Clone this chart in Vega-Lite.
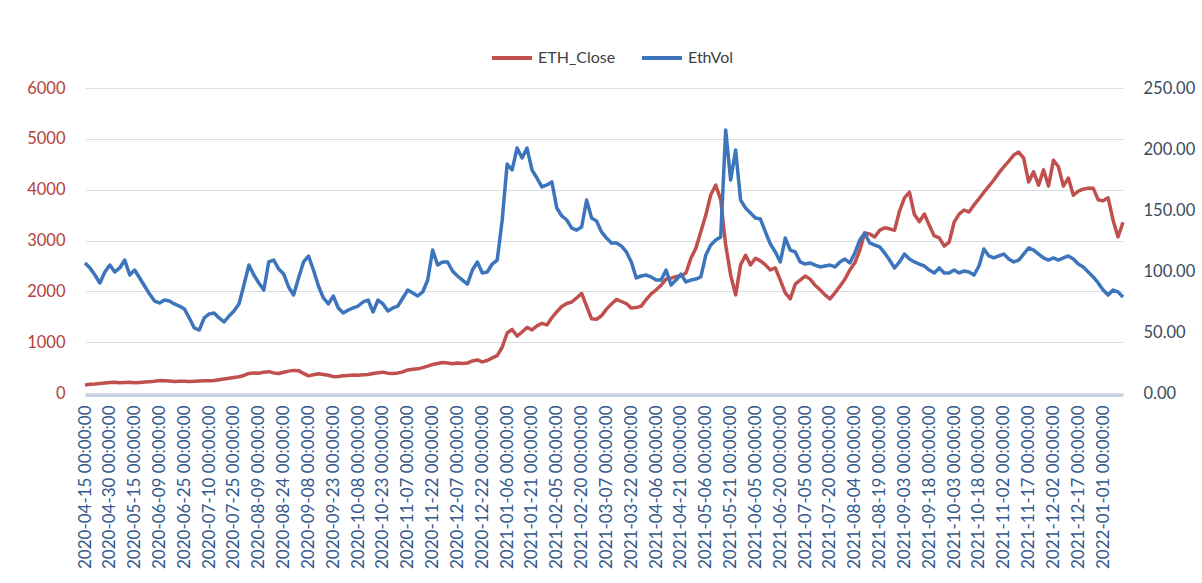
{
  "$schema": "https://vega.github.io/schema/vega-lite/v6.json",
  "width": 1038,
  "height": 305,
  "autosize": {"type": "none"},
  "padding": {"left": 85, "top": 88, "right": 79, "bottom": 190},
  "background": "white",
  "config": {"view": {"stroke": null}, "font": "Lato"},
  "data": {"values": [
    {"Date":"2020-04-15","ETH_Close":157,"EthVol":106.6},
    {"Date":"2020-04-18","ETH_Close":172,"EthVol":102.5},
    {"Date":"2020-04-21","ETH_Close":175,"EthVol":96.7},
    {"Date":"2020-04-24","ETH_Close":185,"EthVol":90.2},
    {"Date":"2020-04-27","ETH_Close":195,"EthVol":99.2},
    {"Date":"2020-04-30","ETH_Close":207,"EthVol":104.9},
    {"Date":"2020-05-03","ETH_Close":212,"EthVol":99.2},
    {"Date":"2020-05-06","ETH_Close":200,"EthVol":102.5},
    {"Date":"2020-05-09","ETH_Close":205,"EthVol":109.0},
    {"Date":"2020-05-12","ETH_Close":210,"EthVol":96.7},
    {"Date":"2020-05-15","ETH_Close":200,"EthVol":100.8},
    {"Date":"2020-05-18","ETH_Close":208,"EthVol":94.3},
    {"Date":"2020-05-21","ETH_Close":215,"EthVol":87.7},
    {"Date":"2020-05-24","ETH_Close":222,"EthVol":81.1},
    {"Date":"2020-05-27","ETH_Close":230,"EthVol":75.4},
    {"Date":"2020-06-09","ETH_Close":244,"EthVol":73.8},
    {"Date":"2020-06-12","ETH_Close":240,"EthVol":76.2},
    {"Date":"2020-06-15","ETH_Close":235,"EthVol":75.4},
    {"Date":"2020-06-18","ETH_Close":228,"EthVol":73.0},
    {"Date":"2020-06-21","ETH_Close":230,"EthVol":71.3},
    {"Date":"2020-06-25","ETH_Close":232,"EthVol":68.9},
    {"Date":"2020-06-28","ETH_Close":228,"EthVol":61.5},
    {"Date":"2020-07-01","ETH_Close":230,"EthVol":53.3},
    {"Date":"2020-07-04","ETH_Close":236,"EthVol":51.6},
    {"Date":"2020-07-07","ETH_Close":240,"EthVol":61.5},
    {"Date":"2020-07-10","ETH_Close":241,"EthVol":64.8},
    {"Date":"2020-07-13","ETH_Close":245,"EthVol":65.6},
    {"Date":"2020-07-16","ETH_Close":260,"EthVol":61.5},
    {"Date":"2020-07-19","ETH_Close":275,"EthVol":58.2},
    {"Date":"2020-07-22","ETH_Close":290,"EthVol":63.1},
    {"Date":"2020-07-25","ETH_Close":305,"EthVol":67.2},
    {"Date":"2020-07-28","ETH_Close":320,"EthVol":73.0},
    {"Date":"2020-07-31","ETH_Close":345,"EthVol":88.5},
    {"Date":"2020-08-03","ETH_Close":385,"EthVol":104.9},
    {"Date":"2020-08-06","ETH_Close":395,"EthVol":96.7},
    {"Date":"2020-08-09","ETH_Close":390,"EthVol":90.2},
    {"Date":"2020-08-12","ETH_Close":410,"EthVol":84.4},
    {"Date":"2020-08-15","ETH_Close":420,"EthVol":107.4},
    {"Date":"2020-08-18","ETH_Close":395,"EthVol":109.0},
    {"Date":"2020-08-21","ETH_Close":385,"EthVol":101.6},
    {"Date":"2020-08-24","ETH_Close":408,"EthVol":97.5},
    {"Date":"2020-08-27","ETH_Close":430,"EthVol":86.9},
    {"Date":"2020-08-30","ETH_Close":445,"EthVol":80.3},
    {"Date":"2020-09-02","ETH_Close":440,"EthVol":94.3},
    {"Date":"2020-09-05","ETH_Close":385,"EthVol":107.4},
    {"Date":"2020-09-08","ETH_Close":337,"EthVol":112.3},
    {"Date":"2020-09-11","ETH_Close":360,"EthVol":100.8},
    {"Date":"2020-09-14","ETH_Close":380,"EthVol":87.7},
    {"Date":"2020-09-17","ETH_Close":365,"EthVol":77.9},
    {"Date":"2020-09-20","ETH_Close":350,"EthVol":73.0},
    {"Date":"2020-09-23","ETH_Close":321,"EthVol":79.5},
    {"Date":"2020-09-26","ETH_Close":325,"EthVol":69.7},
    {"Date":"2020-09-29","ETH_Close":340,"EthVol":65.6},
    {"Date":"2020-10-02","ETH_Close":345,"EthVol":68.0},
    {"Date":"2020-10-05","ETH_Close":352,"EthVol":69.7},
    {"Date":"2020-10-08","ETH_Close":350,"EthVol":71.3},
    {"Date":"2020-10-11","ETH_Close":360,"EthVol":74.6},
    {"Date":"2020-10-14","ETH_Close":365,"EthVol":76.2},
    {"Date":"2020-10-17","ETH_Close":385,"EthVol":66.4},
    {"Date":"2020-10-20","ETH_Close":400,"EthVol":76.2},
    {"Date":"2020-10-23","ETH_Close":410,"EthVol":73.0},
    {"Date":"2020-10-26","ETH_Close":390,"EthVol":67.2},
    {"Date":"2020-10-29","ETH_Close":385,"EthVol":69.7},
    {"Date":"2020-11-01","ETH_Close":395,"EthVol":71.3},
    {"Date":"2020-11-04","ETH_Close":415,"EthVol":77.9},
    {"Date":"2020-11-07","ETH_Close":454,"EthVol":84.4},
    {"Date":"2020-11-10","ETH_Close":465,"EthVol":82.0},
    {"Date":"2020-11-13","ETH_Close":475,"EthVol":79.5},
    {"Date":"2020-11-16","ETH_Close":500,"EthVol":82.8},
    {"Date":"2020-11-19","ETH_Close":530,"EthVol":92.6},
    {"Date":"2020-11-22","ETH_Close":560,"EthVol":117.2},
    {"Date":"2020-11-25","ETH_Close":580,"EthVol":104.9},
    {"Date":"2020-11-28","ETH_Close":600,"EthVol":107.4},
    {"Date":"2020-12-01","ETH_Close":590,"EthVol":107.4},
    {"Date":"2020-12-04","ETH_Close":575,"EthVol":100.0},
    {"Date":"2020-12-07","ETH_Close":591,"EthVol":95.9},
    {"Date":"2020-12-10","ETH_Close":580,"EthVol":92.6},
    {"Date":"2020-12-13","ETH_Close":590,"EthVol":89.3},
    {"Date":"2020-12-16","ETH_Close":630,"EthVol":100.8},
    {"Date":"2020-12-19","ETH_Close":650,"EthVol":107.4},
    {"Date":"2020-12-22","ETH_Close":612,"EthVol":98.4},
    {"Date":"2020-12-25","ETH_Close":640,"EthVol":99.2},
    {"Date":"2020-12-28","ETH_Close":690,"EthVol":105.7},
    {"Date":"2020-12-31","ETH_Close":735,"EthVol":109.0},
    {"Date":"2021-01-03","ETH_Close":900,"EthVol":141.8},
    {"Date":"2021-01-06","ETH_Close":1180,"EthVol":187.7},
    {"Date":"2021-01-09","ETH_Close":1250,"EthVol":182.8},
    {"Date":"2021-01-12","ETH_Close":1120,"EthVol":200.8},
    {"Date":"2021-01-15","ETH_Close":1200,"EthVol":192.6},
    {"Date":"2021-01-18","ETH_Close":1290,"EthVol":200.8},
    {"Date":"2021-01-21","ETH_Close":1240,"EthVol":182.8},
    {"Date":"2021-01-24","ETH_Close":1320,"EthVol":176.2},
    {"Date":"2021-01-27","ETH_Close":1370,"EthVol":168.9},
    {"Date":"2021-01-30","ETH_Close":1340,"EthVol":170.5},
    {"Date":"2021-02-02","ETH_Close":1480,"EthVol":173.0},
    {"Date":"2021-02-05","ETH_Close":1600,"EthVol":151.6},
    {"Date":"2021-02-08","ETH_Close":1700,"EthVol":145.1},
    {"Date":"2021-02-11","ETH_Close":1760,"EthVol":141.8},
    {"Date":"2021-02-14","ETH_Close":1790,"EthVol":135.2},
    {"Date":"2021-02-17","ETH_Close":1870,"EthVol":133.6},
    {"Date":"2021-02-20","ETH_Close":1960,"EthVol":136.1},
    {"Date":"2021-02-23","ETH_Close":1710,"EthVol":158.2},
    {"Date":"2021-02-26","ETH_Close":1460,"EthVol":143.4},
    {"Date":"2021-03-01","ETH_Close":1450,"EthVol":141.0},
    {"Date":"2021-03-04","ETH_Close":1520,"EthVol":132.0},
    {"Date":"2021-03-07","ETH_Close":1650,"EthVol":127.0},
    {"Date":"2021-03-10","ETH_Close":1750,"EthVol":123.0},
    {"Date":"2021-03-13","ETH_Close":1840,"EthVol":123.0},
    {"Date":"2021-03-16","ETH_Close":1800,"EthVol":120.5},
    {"Date":"2021-03-19","ETH_Close":1760,"EthVol":115.6},
    {"Date":"2021-03-22","ETH_Close":1670,"EthVol":107.4},
    {"Date":"2021-03-25","ETH_Close":1680,"EthVol":94.3},
    {"Date":"2021-03-28","ETH_Close":1710,"EthVol":95.9},
    {"Date":"2021-03-31","ETH_Close":1840,"EthVol":96.7},
    {"Date":"2021-04-03","ETH_Close":1950,"EthVol":95.1},
    {"Date":"2021-04-06","ETH_Close":2030,"EthVol":92.6},
    {"Date":"2021-04-09","ETH_Close":2120,"EthVol":92.6},
    {"Date":"2021-04-12","ETH_Close":2240,"EthVol":100.8},
    {"Date":"2021-04-15","ETH_Close":2260,"EthVol":88.5},
    {"Date":"2021-04-18","ETH_Close":2290,"EthVol":92.6},
    {"Date":"2021-04-21","ETH_Close":2300,"EthVol":97.5},
    {"Date":"2021-04-24","ETH_Close":2360,"EthVol":91.0},
    {"Date":"2021-04-27","ETH_Close":2650,"EthVol":92.6},
    {"Date":"2021-04-30","ETH_Close":2850,"EthVol":93.4},
    {"Date":"2021-05-03","ETH_Close":3170,"EthVol":95.1},
    {"Date":"2021-05-06","ETH_Close":3500,"EthVol":113.1},
    {"Date":"2021-05-09","ETH_Close":3900,"EthVol":121.3},
    {"Date":"2021-05-12","ETH_Close":4090,"EthVol":125.4},
    {"Date":"2021-05-15","ETH_Close":3800,"EthVol":127.9},
    {"Date":"2021-05-18","ETH_Close":2910,"EthVol":215.6},
    {"Date":"2021-05-21","ETH_Close":2320,"EthVol":174.6},
    {"Date":"2021-05-24","ETH_Close":1930,"EthVol":199.2},
    {"Date":"2021-05-27","ETH_Close":2520,"EthVol":158.2},
    {"Date":"2021-05-30","ETH_Close":2710,"EthVol":151.6},
    {"Date":"2021-06-02","ETH_Close":2520,"EthVol":147.5},
    {"Date":"2021-06-05","ETH_Close":2650,"EthVol":143.4},
    {"Date":"2021-06-08","ETH_Close":2600,"EthVol":142.6},
    {"Date":"2021-06-11","ETH_Close":2520,"EthVol":132.0},
    {"Date":"2021-06-14","ETH_Close":2420,"EthVol":122.1},
    {"Date":"2021-06-17","ETH_Close":2460,"EthVol":115.6},
    {"Date":"2021-06-20","ETH_Close":2220,"EthVol":107.4},
    {"Date":"2021-06-23","ETH_Close":1970,"EthVol":127.0},
    {"Date":"2021-06-26","ETH_Close":1850,"EthVol":117.2},
    {"Date":"2021-06-29","ETH_Close":2140,"EthVol":115.6},
    {"Date":"2021-07-02","ETH_Close":2220,"EthVol":107.4},
    {"Date":"2021-07-05","ETH_Close":2300,"EthVol":105.7},
    {"Date":"2021-07-08","ETH_Close":2240,"EthVol":106.6},
    {"Date":"2021-07-11","ETH_Close":2120,"EthVol":104.9},
    {"Date":"2021-07-14","ETH_Close":2030,"EthVol":103.3},
    {"Date":"2021-07-17","ETH_Close":1930,"EthVol":104.1},
    {"Date":"2021-07-20","ETH_Close":1850,"EthVol":104.9},
    {"Date":"2021-07-23","ETH_Close":1970,"EthVol":103.3},
    {"Date":"2021-07-26","ETH_Close":2100,"EthVol":107.4},
    {"Date":"2021-07-29","ETH_Close":2240,"EthVol":109.8},
    {"Date":"2021-08-01","ETH_Close":2420,"EthVol":106.6},
    {"Date":"2021-08-04","ETH_Close":2560,"EthVol":114.8},
    {"Date":"2021-08-07","ETH_Close":2810,"EthVol":125.4},
    {"Date":"2021-08-10","ETH_Close":3150,"EthVol":131.1},
    {"Date":"2021-08-13","ETH_Close":3130,"EthVol":123.0},
    {"Date":"2021-08-16","ETH_Close":3070,"EthVol":121.3},
    {"Date":"2021-08-19","ETH_Close":3200,"EthVol":119.7},
    {"Date":"2021-08-22","ETH_Close":3250,"EthVol":114.8},
    {"Date":"2021-08-25","ETH_Close":3230,"EthVol":109.0},
    {"Date":"2021-08-28","ETH_Close":3200,"EthVol":102.5},
    {"Date":"2021-08-31","ETH_Close":3580,"EthVol":107.4},
    {"Date":"2021-09-03","ETH_Close":3840,"EthVol":113.9},
    {"Date":"2021-09-06","ETH_Close":3950,"EthVol":109.8},
    {"Date":"2021-09-09","ETH_Close":3510,"EthVol":107.4},
    {"Date":"2021-09-12","ETH_Close":3370,"EthVol":105.7},
    {"Date":"2021-09-15","ETH_Close":3520,"EthVol":104.1},
    {"Date":"2021-09-18","ETH_Close":3300,"EthVol":100.8},
    {"Date":"2021-09-21","ETH_Close":3090,"EthVol":98.4},
    {"Date":"2021-09-24","ETH_Close":3050,"EthVol":102.5},
    {"Date":"2021-09-27","ETH_Close":2890,"EthVol":98.4},
    {"Date":"2021-09-30","ETH_Close":2970,"EthVol":98.4},
    {"Date":"2021-10-03","ETH_Close":3360,"EthVol":100.8},
    {"Date":"2021-10-06","ETH_Close":3520,"EthVol":98.4},
    {"Date":"2021-10-09","ETH_Close":3600,"EthVol":100.0},
    {"Date":"2021-10-12","ETH_Close":3560,"EthVol":99.2},
    {"Date":"2021-10-15","ETH_Close":3700,"EthVol":96.7},
    {"Date":"2021-10-18","ETH_Close":3820,"EthVol":104.1},
    {"Date":"2021-10-21","ETH_Close":3950,"EthVol":118.0},
    {"Date":"2021-10-24","ETH_Close":4070,"EthVol":112.3},
    {"Date":"2021-10-27","ETH_Close":4190,"EthVol":110.7},
    {"Date":"2021-10-30","ETH_Close":4330,"EthVol":112.3},
    {"Date":"2021-11-02","ETH_Close":4450,"EthVol":113.9},
    {"Date":"2021-11-05","ETH_Close":4560,"EthVol":109.8},
    {"Date":"2021-11-08","ETH_Close":4680,"EthVol":107.4},
    {"Date":"2021-11-11","ETH_Close":4740,"EthVol":109.0},
    {"Date":"2021-11-14","ETH_Close":4620,"EthVol":113.9},
    {"Date":"2021-11-17","ETH_Close":4150,"EthVol":118.9},
    {"Date":"2021-11-20","ETH_Close":4350,"EthVol":117.2},
    {"Date":"2021-11-23","ETH_Close":4090,"EthVol":113.9},
    {"Date":"2021-11-26","ETH_Close":4390,"EthVol":110.7},
    {"Date":"2021-11-29","ETH_Close":4070,"EthVol":109.0},
    {"Date":"2021-12-02","ETH_Close":4580,"EthVol":110.7},
    {"Date":"2021-12-05","ETH_Close":4450,"EthVol":109.0},
    {"Date":"2021-12-08","ETH_Close":4070,"EthVol":110.7},
    {"Date":"2021-12-11","ETH_Close":4230,"EthVol":112.3},
    {"Date":"2021-12-14","ETH_Close":3890,"EthVol":109.8},
    {"Date":"2021-12-17","ETH_Close":3970,"EthVol":105.7},
    {"Date":"2021-12-20","ETH_Close":4010,"EthVol":103.3},
    {"Date":"2021-12-23","ETH_Close":4030,"EthVol":99.2},
    {"Date":"2021-12-26","ETH_Close":4030,"EthVol":95.1},
    {"Date":"2021-12-29","ETH_Close":3800,"EthVol":90.2},
    {"Date":"2022-01-01","ETH_Close":3780,"EthVol":84.4},
    {"Date":"2022-01-04","ETH_Close":3840,"EthVol":80.3},
    {"Date":"2022-01-07","ETH_Close":3400,"EthVol":84.4},
    {"Date":"2022-01-10","ETH_Close":3070,"EthVol":82.8},
    {"Date":"2022-01-13","ETH_Close":3360,"EthVol":78.7}
  ]},
  "encoding": {
    "x": {
      "field": "Date",
      "type": "ordinal",
      "sort": "ascending",
      "scale": {"type": "point", "padding": 0},
      "axis": {
        "title": null,
        "values": ["2020-04-15","2020-04-30","2020-05-15","2020-06-09","2020-06-25","2020-07-10","2020-07-25","2020-08-09","2020-08-24","2020-09-08","2020-09-23","2020-10-08","2020-10-23","2020-11-07","2020-11-22","2020-12-07","2020-12-22","2021-01-06","2021-01-21","2021-02-05","2021-02-20","2021-03-07","2021-03-22","2021-04-06","2021-04-21","2021-05-06","2021-05-21","2021-06-05","2021-06-20","2021-07-05","2021-07-20","2021-08-04","2021-08-19","2021-09-03","2021-09-18","2021-10-03","2021-10-18","2021-11-02","2021-11-17","2021-12-02","2021-12-17","2022-01-01"],
        "labelExpr": "datum.value + ' 00:00:00'",
        "labelAngle": 270,
        "labelAlign": "right",
        "labelBaseline": "middle",
        "labelFontSize": 17,
        "labelColor": "#34598C",
        "labelPadding": 10,
        "labelOverlap": false,
        "ticks": false,
        "grid": false,
        "domainColor": "#C7D2E3",
        "domainWidth": 3,
        "offset": 2
      }
    }
  },
  "layer": [
    {
      "mark": {"type": "line", "strokeWidth": 3.5, "strokeJoin": "round"},
      "encoding": {
        "y": {
          "field": "ETH_Close",
          "type": "quantitative",
          "scale": {"domain": [0, 6000], "nice": false},
          "axis": {
            "orient": "left",
            "title": null,
            "values": [0, 1000, 2000, 3000, 4000, 5000, 6000],
            "format": "d",
            "labelFontSize": 16.5,
            "labelColor": "#B2413D",
            "labelPadding": 20,
            "domain": false,
            "ticks": false,
            "grid": true,
            "gridColor": "#D9DEE6",
            "gridWidth": 1
          }
        },
        "color": {
          "datum": "ETH_Close",
          "scale": {"domain": ["ETH_Close", "EthVol"], "range": ["#C0504D", "#3D75BC"]},
          "legend": {
            "title": null,
            "orient": "none",
            "legendX": 405,
            "legendY": -52,
            "direction": "horizontal",
            "symbolType": "stroke",
            "symbolStrokeWidth": 4,
            "symbolSize": 1600,
            "labelFontSize": 16,
            "labelColor": "#404040",
            "columnPadding": 18,
            "labelOffset": 4
          }
        }
      }
    },
    {
      "mark": {"type": "line", "strokeWidth": 3.5, "strokeJoin": "round"},
      "encoding": {
        "y": {
          "field": "EthVol",
          "type": "quantitative",
          "scale": {"domain": [0, 250], "nice": false},
          "axis": {
            "orient": "right",
            "title": null,
            "values": [0, 50, 100, 150, 200, 250],
            "format": ".2f",
            "labelFontSize": 16.5,
            "labelColor": "#3B4A5E",
            "labelPadding": 20,
            "domain": false,
            "ticks": false,
            "grid": false
          }
        },
        "color": {"datum": "EthVol"}
      }
    }
  ],
  "resolve": {"scale": {"y": "independent"}}
}
